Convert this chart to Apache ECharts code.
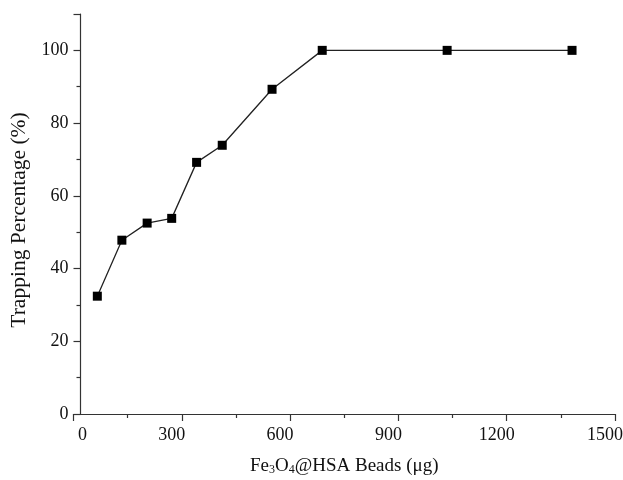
<!DOCTYPE html>
<html>
<head>
<meta charset="utf-8">
<script src="https://cdn.jsdelivr.net/npm/echarts@6/dist/echarts.min.js"></script>
<style>
  html, body { margin: 0; padding: 0; background: #fff; }
  #chart { width: 623px; height: 480px; }
</style>
</head>
<body>
<div id="chart"></div>
<script>
// bead amount (ug) and trapping percentage (%)
var beads = [66, 134, 204, 272, 341, 412, 550, 689, 1035, 1381];
var trapping = [32.4, 47.8, 52.5, 53.8, 69.2, 73.9, 89.3, 100, 100, 100];

var xMajor = [0, 300, 600, 900, 1200, 1500];
var xMinor = [150, 450, 750, 1050, 1350];
var yMajor = [0, 20, 40, 60, 80, 100, 110];
var yLabels = [0, 20, 40, 60, 80, 100];
var yMinor = [10, 30, 50, 70, 90];

var axisColor = '#333';
var font = 'Liberation Serif';

var points = [];
for (var i = 0; i < beads.length; i++) {
    points.push([beads[i], trapping[i]]);
}

// x tick labels in the scan sit a little off their ticks
var labelStyle = { fontFamily: font, fontSize: 18, color: '#111' };
var richX = {
    z: Object.assign({ padding: [0, 0, 0, 18] }, labelStyle),
    m: Object.assign({ padding: [0, 20, 0, 0] }, labelStyle)
};

var chart = echarts.init(document.getElementById('chart'));

var option = {
    animation: false,
    grid: { left: 73.5, right: 8, top: 14, bottom: 66, containLabel: false, outerBoundsMode: 'none' },
    xAxis: [
        {
            type: 'value',
            min: 0,
            max: 1500,
            position: 'bottom',
            splitLine: { show: false },
            axisLine: { lineStyle: { color: axisColor, width: 1.2 } },
            axisTick: { customValues: xMajor, length: 7, lineStyle: { color: axisColor, width: 1.2 } },
            axisLabel: {
                customValues: xMajor,
                formatter: function (v) { return v === 0 ? '{z|0}' : '{m|' + v + '}'; },
                margin: 12,
                rich: richX
            },
            name: 'Fe{sub|3}O{sub|4}@HSA Beads (μg)',
            nameLocation: 'middle',
            nameGap: 42,
            nameTextStyle: {
                color: '#111',
                fontFamily: font,
                fontSize: 19,
                rich: {
                    sub: { fontFamily: font, fontSize: 12, color: '#111', verticalAlign: 'bottom', padding: [8, 0, 0, 0] }
                }
            }
        },
        {
            type: 'value',
            min: 0,
            max: 1500,
            position: 'bottom',
            splitLine: { show: false },
            axisLine: { show: false },
            axisTick: { customValues: xMinor, length: 4, lineStyle: { color: axisColor, width: 1.2 } },
            axisLabel: { show: false }
        }
    ],
    yAxis: [
        {
            type: 'value',
            min: 0,
            max: 110,
            position: 'left',
            offset: -7,
            splitLine: { show: false },
            axisLine: { show: true, onZero: false, lineStyle: { color: axisColor, width: 1.2 } },
            axisTick: { show: true, customValues: yMajor, length: 7, lineStyle: { color: axisColor, width: 1.2 } },
            axisLabel: {
                customValues: yLabels,
                margin: 12,
                color: '#111',
                fontFamily: font,
                fontSize: 18
            },
            name: 'Trapping Percentage (%)',
            nameLocation: 'middle',
            nameGap: 47,
            nameTextStyle: { color: '#111', fontFamily: font, fontSize: 21.5, padding: [0, 12, 0, 0] }
        },
        {
            type: 'value',
            min: 0,
            max: 110,
            position: 'left',
            offset: -7,
            splitLine: { show: false },
            axisLine: { show: false, onZero: false },
            axisTick: { show: true, customValues: yMinor, length: 4, lineStyle: { color: axisColor, width: 1.2 } },
            axisLabel: { show: false }
        }
    ],
    series: [
        {
            type: 'line',
            xAxisIndex: 0,
            yAxisIndex: 0,
            data: points,
            symbol: 'rect',
            symbolSize: 9,
            itemStyle: { color: '#000' },
            lineStyle: { color: '#222', width: 1.3 }
        }
    ]
};

chart.setOption(option);
</script>
</body>
</html>
